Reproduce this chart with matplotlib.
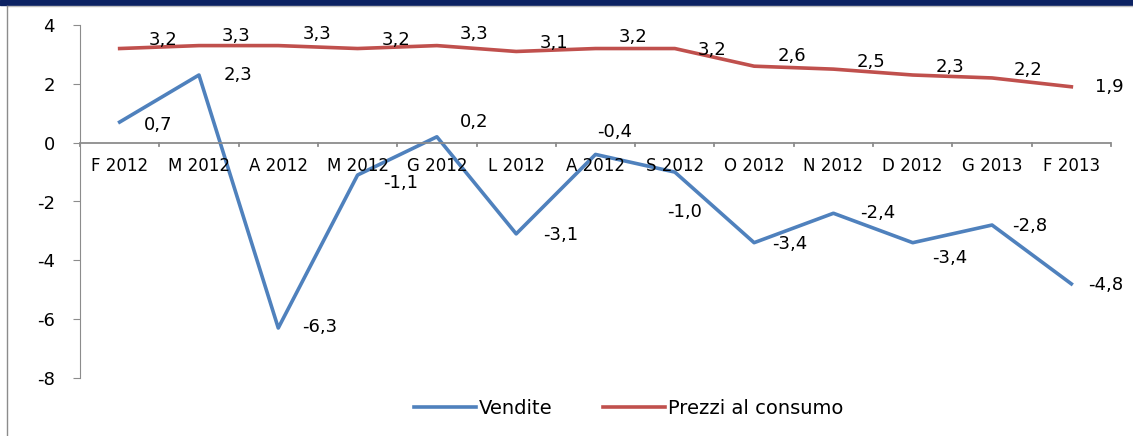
import matplotlib.pyplot as plt
from matplotlib.lines import Line2D

plt.rcParams["axes.unicode_minus"] = False

# data
mesi = ["F 2012", "M 2012", "A 2012", "M 2012", "G 2012", "L 2012", "A 2012",
        "S 2012", "O 2012", "N 2012", "D 2012", "G 2013", "F 2013"]
vendite = [0.7, 2.3, -6.3, -1.1, 0.2, -3.1, -0.4, -1.0, -3.4, -2.4, -3.4, -2.8, -4.8]
prezzi = [3.2, 3.3, 3.3, 3.2, 3.3, 3.1, 3.2, 3.2, 2.6, 2.5, 2.3, 2.2, 1.9]

# label offsets in points (placement only)
off_vendite = [(28, -2), (28, 0), (30, 1), (31, -6), (27, 11), (32, -1), (14, 16),
               (7, -29), (26, -1), (32, 0), (27, -11), (27, -1), (25, -1)]
off_prezzi = [(31, 6), (27, 7), (28, 8), (28, 6), (27, 8), (27, 6), (27, 8),
              (27, -1), (27, 7), (27, 5), (27, 6), (26, 6), (27, 0)]

BLUE = "#4f81bd"
RED = "#c0504d"


def fmt(v):
    return ("%.1f" % v).replace(".", ",")


fig = plt.figure(figsize=(11.33, 4.36), dpi=100)

# top band and frame
fig.patches.append(plt.Rectangle((0, 1 - 5 / 436), 1, 5 / 436, transform=fig.transFigure,
                                 color="#0c2263", zorder=0))
fig.lines.append(Line2D([7 / 1133, 1], [1 - 6 / 436, 1 - 6 / 436], transform=fig.transFigure,
                        color="#bfbfbf", lw=1))
fig.lines.append(Line2D([7 / 1133, 7 / 1133], [0, 1 - 6 / 436], transform=fig.transFigure,
                        color="#8c8c8c", lw=1))

ax = fig.add_axes([80 / 1133, 1 - 378 / 436, (1111 - 80) / 1133, (378 - 25) / 436])

x = list(range(len(mesi)))
ax.plot(x, vendite, color=BLUE, lw=2.6, label="Vendite")
ax.plot(x, prezzi, color=RED, lw=2.6, label="Prezzi al consumo")

for i in x:
    ax.annotate(fmt(vendite[i]), (i, vendite[i]), xytext=off_vendite[i],
                textcoords="offset points", ha="center", va="center",
                fontsize=13, family="DejaVu Sans")
    ax.annotate(fmt(prezzi[i]), (i, prezzi[i]), xytext=off_prezzi[i],
                textcoords="offset points", ha="center", va="center",
                fontsize=13, family="DejaVu Sans")

ax.set_xlim(-0.5, len(mesi) - 0.5)
ax.set_ylim(-8, 4)
ax.set_yticks(range(-8, 5, 2))
ax.tick_params(axis="y", labelsize=13, length=5, color="#8c8c8c", pad=13)

# category axis drawn at zero
ax.set_xticks([])
ax.axhline(0, color="#8c8c8c", lw=1.3)
for i in range(len(mesi) + 1):
    ax.plot([i - 0.5, i - 0.5], [0, -0.12], color="#8c8c8c", lw=1.3, clip_on=False)
for i, m in enumerate(mesi):
    ax.text(i, -0.8, m, ha="center", va="center", fontsize=12, family="DejaVu Sans")

for s in ["top", "right", "bottom"]:
    ax.spines[s].set_visible(False)
ax.spines["left"].set_color("#8c8c8c")

ax.legend(loc="upper center", bbox_to_anchor=(0.532, -0.01), ncol=2, frameon=False,
          handlelength=3.2, handletextpad=0.15, columnspacing=2.6,
          prop={"family": "DejaVu Sans", "size": 14})

fig.savefig("out.png", dpi=100)
